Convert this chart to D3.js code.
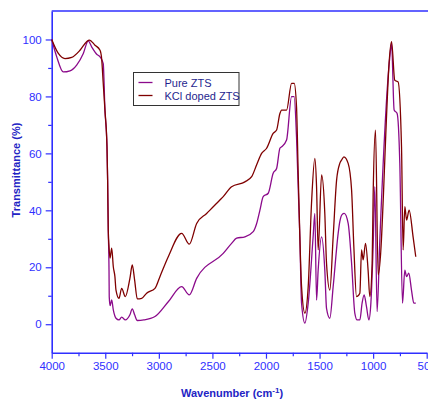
<!DOCTYPE html>
<html lang="en">
<head>
  <meta charset="utf-8">
  <title>FTIR spectra</title>
  <script src="https://d3js.org/d3.v7.min.js"></script>
  <style>
    body { margin: 0; background: #fff; }
  </style>
</head>
<body>
	<script type="text/javascript">

		// Pure ZTS spectrum (wavenumber, transmittance)
		var pureWn = [4000, 3953, 3892, 3829, 3767, 3705, 3659, 3627, 3580, 3549, 3519, 3503, 3484, 3478, 3472, 3465, 3463, 3455, 3440, 3425, 3400, 3372, 3347, 3313, 3270, 3248, 3226, 3201, 3140, 3036, 2912, 2787, 2716, 2647, 2399, 2321, 2274, 2197, 2119, 2090, 2057, 2026, 1979, 1933, 1901, 1870, 1854, 1808, 1761, 1737, 1715, 1684, 1668, 1637, 1606, 1560, 1544, 1528, 1513, 1481, 1451, 1435, 1404, 1373, 1326, 1311, 1290, 1270, 1233, 1201, 1171, 1149, 1124, 1103, 1084, 1062, 1040, 1021, 1000, 984, 963, 937, 844, 828, 804, 776, 751, 726, 704, 688, 667, 642, 620, 602];
		var pureT  = [100, 93.9, 88.6, 89, 91, 95.1, 99.5, 97.4, 94.8, 93.9, 91.5, 75.2, 62.3, 50.6, 33.1, 19, 9.7, 6.5, 8.5, 5, 2.1, 1.5, 2.5, 1.5, 3.3, 5.4, 3.3, 1.3, 1.5, 2.7, 7.9, 13.2, 10.3, 16.1, 24.9, 28.4, 30.2, 30.7, 32.5, 35, 40, 44.8, 46, 53, 54.7, 61.8, 62.3, 64.7, 79.9, 79.9, 65.8, 30.7, 7.4, 0.4, 7.4, 30.7, 38.9, 8.5, 19, 30.7, 19, 5.6, 2.1, 13.2, 32, 36, 38.5, 38.9, 35.4, 21.4, 3.9, 1.5, 1.5, 7.4, 10.3, 6.2, 1.5, 7.4, 27.2, 48.3, 4.4, 30, 93.9, 98.6, 75.2, 74, 56.5, 7.4, 19, 16.7, 17.9, 12, 7.4, 7.4];

		// KCl doped ZTS spectrum
		var kclWn = [4000, 3938, 3876, 3813, 3736, 3674, 3649, 3596, 3549, 3534, 3519, 3503, 3484, 3478, 3472, 3465, 3456, 3440, 3425, 3410, 3400, 3372, 3347, 3313, 3270, 3248, 3226, 3201, 3160, 3114, 3036, 2990, 2912, 2787, 2716, 2647, 2554, 2430, 2399, 2321, 2197, 2134, 2088, 2041, 1994, 1933, 1901, 1870, 1854, 1808, 1761, 1737, 1715, 1700, 1684, 1668, 1637, 1606, 1575, 1544, 1528, 1513, 1481, 1451, 1435, 1404, 1373, 1341, 1311, 1295, 1273, 1233, 1201, 1180, 1155, 1124, 1108, 1093, 1071, 1047, 1031, 1009, 1000, 978, 953, 828, 798, 767, 735, 720, 704, 688, 664, 627, 602];
		var kclT  = [100, 95.1, 93.3, 93.7, 96.2, 99.2, 99.8, 98, 96.2, 93.3, 84.6, 75.2, 62.3, 50.6, 33.1, 27.2, 23.2, 26.7, 20.2, 16.7, 12, 9.1, 12.6, 9.7, 16.1, 20.8, 15.5, 8.9, 9.1, 10.9, 12.6, 16.7, 23.7, 31.9, 28.1, 35.4, 38.9, 43.6, 44.8, 48.3, 50, 51.8, 55.9, 60, 61.8, 67, 68.2, 74, 75.2, 75.2, 84.6, 84.6, 76.4, 54.1, 30.7, 13.2, 3.9, 13.2, 42.5, 58.2, 48.3, 26.1, 52.4, 38.9, 21.4, 12, 30.7, 50.6, 56.5, 57.6, 58.8, 56.5, 47.1, 27.2, 9.7, 10.9, 26.1, 22.6, 28.4, 19, 9.7, 21.4, 44.8, 68.2, 17.3, 99.2, 85.7, 85.1, 62.3, 26.1, 41.3, 36.6, 40.1, 30.7, 23.7];

		var seriesNames = ["Pure ZTS", "KCl doped ZTS"];
		var seriesColors = ["#8b0a8b", "#7f0000"];

		var xTicks = [4000, 3500, 3000, 2500, 2000, 1500, 1000, 500];
		var xMinor = [3750, 3250, 2750, 2250, 1750, 1250, 750];
		var yTicks = [0, 20, 40, 60, 80, 100];
		var yMinor = [10, 30, 50, 70, 90];

		var outer_width = 428;
		var outer_height = 401;
		var blue = "#2f2fff";
		var titleBlue = "#2323c4";

		var svg = d3.select("body")
					.append("svg")
					.attr("width", outer_width)
					.attr("height", outer_height);

		var xScale = d3.scaleLinear()
						.domain([4000, 500])
						.range([51.7, 426.7]);

		var yScale = d3.scaleLinear()
						.domain([-10, 110])
						.range([352.7, 11]);

		// minor ticks first, under the major axis
		svg.append("g")
			.attr("transform", "translate(0," + yScale(-10) + ")")
			.call(d3.axisBottom(xScale).tickValues(xMinor).tickSize(3.5).tickFormat(""))
			.call(function(g) { g.select(".domain").remove(); });

		svg.append("g")
			.attr("transform", "translate(" + xScale(4000) + ",0)")
			.call(d3.axisLeft(yScale).tickValues(yMinor).tickSize(3.5).tickFormat(""))
			.call(function(g) { g.select(".domain").remove(); });

		var xAxis = svg.append("g")
			.attr("class", "axis")
			.attr("transform", "translate(0," + yScale(-10) + ")")
			.call(d3.axisBottom(xScale).tickValues(xTicks).tickSize(6).tickSizeOuter(0).tickPadding(3).tickFormat(d3.format("d")));

		var yAxis = svg.append("g")
			.attr("class", "axis")
			.attr("transform", "translate(" + xScale(4000) + ",0)")
			.call(d3.axisLeft(yScale).tickValues(yTicks).tickSize(6).tickSizeOuter(0).tickPadding(4));

		svg.selectAll(".tick line").attr("stroke", blue).attr("stroke-width", 1.2);
		svg.selectAll(".domain").attr("stroke", blue).attr("stroke-width", 1.6);
		svg.selectAll(".tick text")
			.attr("fill", blue)
			.attr("font-size", "11.5px")
			.attr("font-family", "'Liberation Sans', Arial, sans-serif");

		// top frame line
		svg.append("line")
			.attr("x1", xScale(4000))
			.attr("x2", outer_width + 5)
			.attr("y1", yScale(110))
			.attr("y2", yScale(110))
			.attr("stroke", blue)
			.attr("stroke-width", 1.6);

		// spectra
		var line = d3.line()
					.curve(d3.curveMonotoneX)
					.x(function(d) { return xScale(d[0]); })
					.y(function(d) { return yScale(d[1]); });

		var pureData = pureWn.map(function(w, i) { return [w, pureT[i]]; });
		var kclData = kclWn.map(function(w, i) { return [w, kclT[i]]; });

		svg.append("path")
			.datum(pureData)
			.attr("d", line)
			.attr("fill", "none")
			.attr("stroke", seriesColors[0])
			.attr("stroke-width", 1.3)
			.attr("stroke-linejoin", "round");

		svg.append("path")
			.datum(kclData)
			.attr("d", line)
			.attr("fill", "none")
			.attr("stroke", seriesColors[1])
			.attr("stroke-width", 1.3)
			.attr("stroke-linejoin", "round");

		// legend
		var legend = svg.append("g").attr("transform", "translate(133.5,72.5)");
		legend.append("rect")
			.attr("width", 105.5)
			.attr("height", 33)
			.attr("fill", "white")
			.attr("stroke", "#333")
			.attr("stroke-width", 1);

		legend.selectAll(".lg-line")
			.data(seriesNames)
			.enter()
			.append("line")
			.attr("x1", 5)
			.attr("x2", 19)
			.attr("y1", function(d, i) { return 10 + i * 13; })
			.attr("y2", function(d, i) { return 10 + i * 13; })
			.attr("stroke", function(d, i) { return seriesColors[i]; })
			.attr("stroke-width", 1.3);

		legend.selectAll(".lg-text")
			.data(seriesNames)
			.enter()
			.append("text")
			.text(function(d) { return d; })
			.attr("x", 31)
			.attr("y", function(d, i) { return 14 + i * 13; })
			.attr("fill", "#1f1f8f")
			.attr("font-size", "11px")
			.attr("font-family", "'Liberation Sans', Arial, sans-serif");

		// axis titles
		svg.append("text")
			.attr("transform", "translate(20,170) rotate(-90)")
			.attr("text-anchor", "middle")
			.attr("fill", titleBlue)
			.attr("font-weight", "bold")
			.attr("font-size", "11px")
			.attr("font-family", "'Liberation Sans', Arial, sans-serif")
			.text("Transmittance (%)");

		var xt = svg.append("text")
			.attr("x", 232)
			.attr("y", 397)
			.attr("text-anchor", "middle")
			.attr("fill", titleBlue)
			.attr("font-weight", "bold")
			.attr("font-size", "11px")
			.attr("font-family", "'Liberation Sans', Arial, sans-serif");
		xt.append("tspan").text("Wavenumber (cm");
		xt.append("tspan").attr("dy", -4).attr("font-size", "8px").text("-1");
		xt.append("tspan").attr("dy", 4).text(")");

	</script>
</body>
</html>
